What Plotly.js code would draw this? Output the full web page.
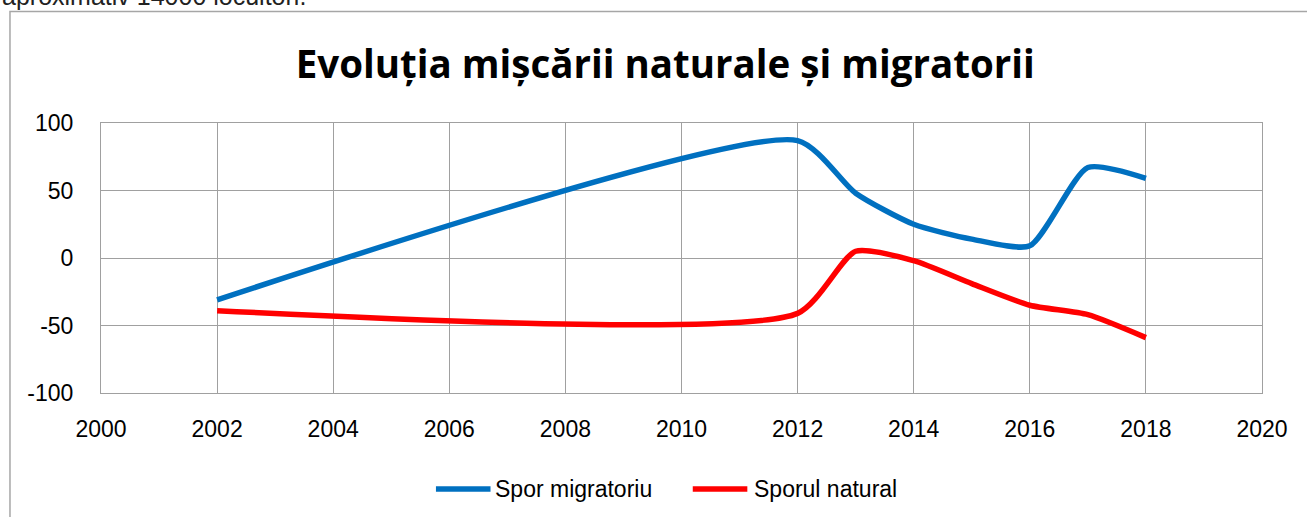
<!DOCTYPE html>
<html><head><meta charset="utf-8">
<script src="https://cdn.plot.ly/plotly-3.0.1.min.js"></script>
<style>html,body{margin:0;padding:0;background:#fff;}#chart{width:1307px;height:517px;}</style>
</head><body><div id="chart"></div>
<script>
const years = [2002, 2012, 2013, 2014, 2015, 2016, 2017, 2018];
const sporMigratoriu = [-31, 87, 48, 25, 14, 9, 67, 59];
const sporulNatural = [-39, -41, 5, -2, -19, -35, -42, -59];
const seriesNames = ['Spor migratoriu', 'Sporul natural'];
const xTicks = [2000, 2002, 2004, 2006, 2008, 2010, 2012, 2014, 2016, 2018, 2020];
const yTicks = [-100, -50, 0, 50, 100];
const titleText = 'Evoluția mișcării naturale și migratorii';
const topText = 'aproximativ 14000 locuitori.';

// detect whether a narrow font is installed
function hasFont(name) {
  const c = document.createElement('canvas').getContext('2d');
  c.font = '40px monospace';
  const w0 = c.measureText('Spor migratoriu 2000').width;
  c.font = '40px "' + name + '", monospace';
  return c.measureText('Spor migratoriu 2000').width !== w0;
}
let labelFamily, labelSize;
if (hasFont('Liberation Sans Narrow')) { labelFamily = '"Liberation Sans Narrow", sans-serif'; labelSize = 28; }
else { labelFamily = '"Liberation Sans", Arial, sans-serif'; labelSize = 23; }

const blue = '#0070C0', red = '#FF0000', grid = '#A0A0A0';
const smooth = 0.62;

const traces = [
  {x: years, y: sporMigratoriu, name: seriesNames[0], type: 'scatter', mode: 'lines',
   line: {color: blue, width: 5.5, shape: 'spline', smoothing: smooth}},
  {x: years, y: sporulNatural, name: seriesNames[1], type: 'scatter', mode: 'lines',
   line: {color: red, width: 5.5, shape: 'spline', smoothing: smooth}}
];

const layout = {
  width: 1307, height: 517,
  margin: {l: 101, r: 45, t: 123, b: 124},
  paper_bgcolor: '#fff', plot_bgcolor: '#fff',
  showlegend: false,
  title: {text: '<b>' + titleText + '</b>', x: 0.509, xanchor: 'center', xref: 'container',
          y: 0.876, yanchor: 'middle', yref: 'container',
          font: {family: '"Open Sans", "Noto Sans", sans-serif', size: 38.5, color: '#000'}},
  xaxis: {range: [2000, 2020], tickvals: xTicks, ticktext: xTicks.map(String), showgrid: true,
          gridcolor: grid, gridwidth: 1, zeroline: false, showline: true, mirror: true, linecolor: grid,
          ticks: '', ticklabelstandoff: 15, tickfont: {family: labelFamily, size: labelSize, color: '#000'}},
  yaxis: {range: [-100, 100], tickvals: yTicks, ticktext: yTicks.map(String), showgrid: true,
          gridcolor: grid, gridwidth: 1, zeroline: false, showline: true, mirror: true, linecolor: grid,
          ticks: '', ticklabelstandoff: 22, tickfont: {family: labelFamily, size: labelSize, color: '#000'}},
  shapes: [
    {type: 'rect', xref: 'paper', yref: 'paper', x0: -0.0784, x1: 1.1, y0: -0.5, y1: 1.413,
     line: {color: '#A6A6A6', width: 1.5}, fillcolor: 'rgba(0,0,0,0)', layer: 'below'},
    {type: 'line', xref: 'paper', yref: 'paper', x0: 0.2885, x1: 0.3355, y0: -0.3556, y1: -0.3556,
     line: {color: blue, width: 5.5}},
    {type: 'line', xref: 'paper', yref: 'paper', x0: 0.5097, x1: 0.5567, y0: -0.3556, y1: -0.3556,
     line: {color: red, width: 5.5}}
  ],
  annotations: [
    {text: seriesNames[0], xref: 'paper', yref: 'paper', x: 0.3376, y: -0.3556, xanchor: 'left',
     yanchor: 'middle', showarrow: false, font: {family: labelFamily, size: labelSize, color: '#000'}},
    {text: seriesNames[1], xref: 'paper', yref: 'paper', x: 0.5603, y: -0.3556, xanchor: 'left',
     yanchor: 'middle', showarrow: false, font: {family: labelFamily, size: labelSize, color: '#000'}},
    {text: topText, xref: 'paper', yref: 'paper', x: -0.087, y: 1.41, xanchor: 'left',
     yanchor: 'bottom', showarrow: false, font: {family: '"Liberation Sans", Arial, sans-serif', size: 25, color: '#222'}}
  ]
};

Plotly.newPlot('chart', traces, layout, {displayModeBar: false, staticPlot: true});
</script></body></html>
